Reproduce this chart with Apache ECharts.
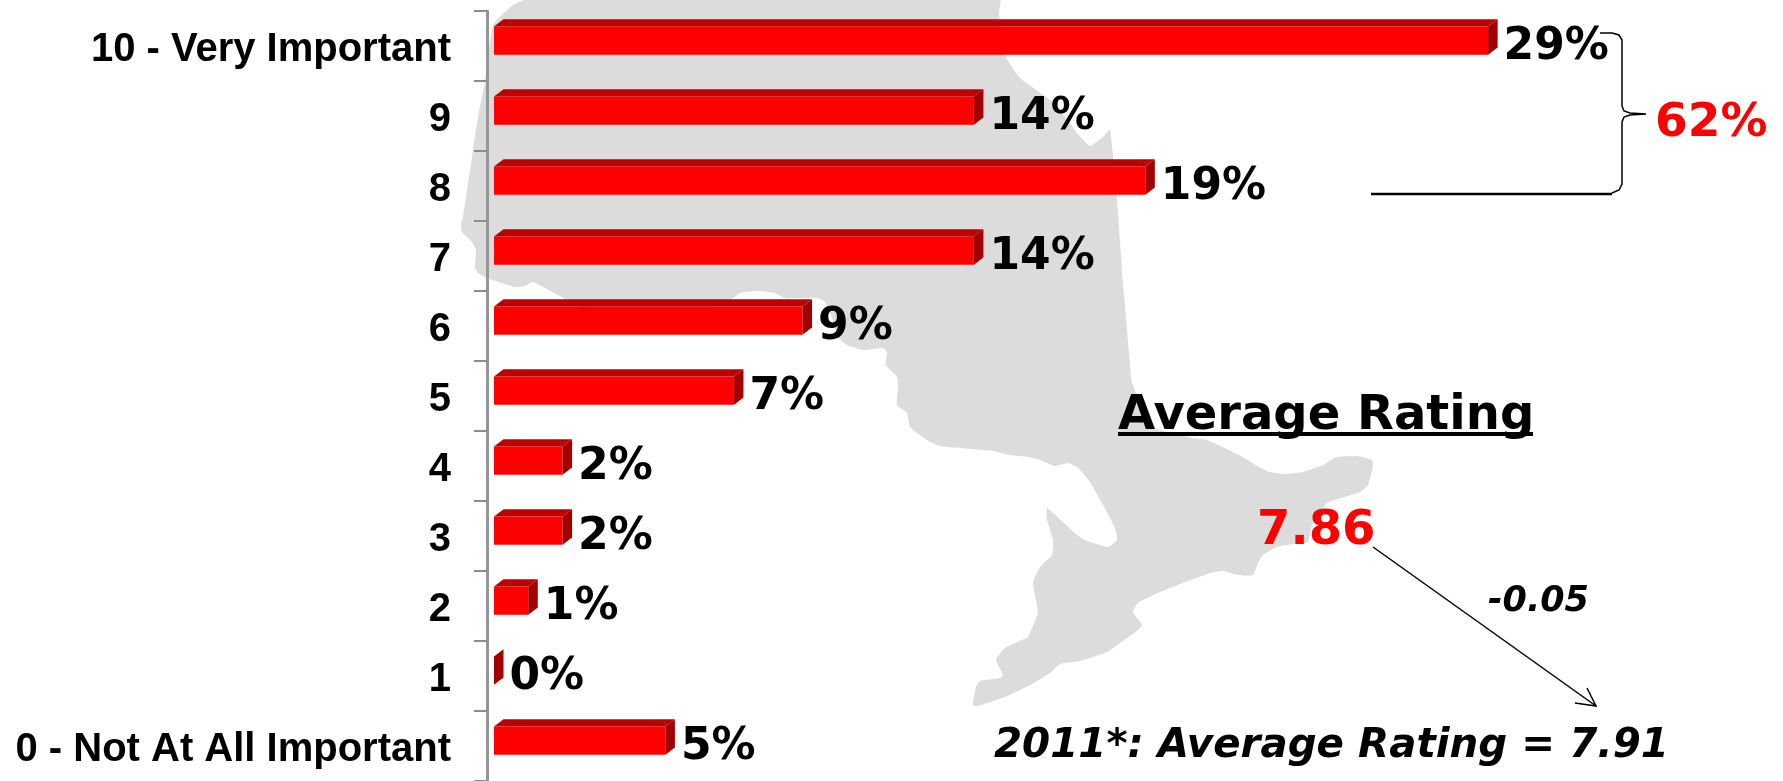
<!DOCTYPE html>
<html>
<head>
<meta charset="utf-8">
<script src="https://cdn.jsdelivr.net/npm/echarts@6/dist/echarts.min.js"></script>
<style>
  html, body { margin: 0; padding: 0; background: #fff; }
  #main { width: 1783px; height: 781px; }
</style>
</head>
<body>
<div id="main"></div>
<script>
const categories = ['10 - Very Important', '9', '8', '7', '6', '5', '4', '3', '2', '1', '0 - Not At All Important']
const percentValues = [29, 14, 19, 14, 9, 7, 2, 2, 1, 0, 5]

const topBoxLabel = '62%'
const averageTitle = 'Average Rating'
const averageValue = '7.86'
const averageChange = '-0.05'
const previousAverage = '2011*: Average Rating = 7.91'

// background silhouette, traced in page pixels
const mapOutline = [
  [525, 0], [513, 5], [493, 25], [485, 82], [478, 117], [473, 150], [463, 217], [461, 223], [462, 232],
  [472, 242], [476, 250], [475, 267], [478, 273], [487, 278], [515, 287], [525, 286], [533, 282], [565, 299],
  [590, 312], [700, 312], [732, 299], [740, 293], [758, 291], [775, 293], [785, 298], [817, 298], [825, 302],
  [832, 318], [838, 337], [847, 345], [863, 350], [883, 348], [887, 352], [886, 365], [897, 377], [898, 387],
  [897, 405], [907, 413], [910, 427], [927, 440], [940, 446], [960, 448], [993, 451], [1010, 455], [1028, 457],
  [1040, 460], [1055, 466], [1068, 463], [1078, 468], [1090, 482], [1103, 505], [1115, 528], [1117, 540],
  [1108, 547], [1085, 540], [1077, 535], [1047, 508], [1047, 520], [1053, 540], [1052, 555], [1040, 567],
  [1033, 583], [1038, 612], [1032, 628], [1028, 637], [1005, 648], [996, 660], [1003, 675], [1000, 678],
  [980, 681], [976, 687], [973, 705], [978, 706], [1005, 697], [1030, 685], [1050, 673], [1060, 664],
  [1080, 661], [1107, 652], [1120, 643], [1138, 630], [1142, 625], [1133, 612], [1138, 603], [1160, 592],
  [1210, 573], [1223, 571], [1238, 575], [1253, 575], [1258, 563], [1263, 555], [1277, 547], [1293, 544],
  [1308, 542], [1312, 525], [1327, 503], [1345, 497], [1360, 492], [1368, 485], [1373, 465], [1372, 460],
  [1357, 456], [1337, 457], [1323, 465], [1303, 472], [1285, 474], [1270, 472], [1257, 466], [1243, 457],
  [1207, 440], [1193, 438], [1153, 427], [1132, 383], [1130, 363], [1123, 283], [1117, 200], [1110, 130],
  [1103, 137], [1090, 146], [1077, 133], [1070, 123], [1050, 100], [1020, 78], [1005, 55], [999, 13], [1000, 0]
]

const fontFamily = '"DejaVu Sans"'
const baselineRatio = 0.73 // text top to baseline, in font sizes
const chart = echarts.init(document.getElementById('main'), null, { renderer: 'canvas' })

// 3d looking bar: front face, top face, right side face, then the value
function renderBar(params, api) {
  const index = api.value(1)
  const value = api.value(0)
  const base = api.coord([0, index])
  const end = api.coord([value, index])
  const band = api.size([0, 1])[1]
  const top = base[1] - band * 0.277
  const bottom = base[1] + band * 0.125
  const dx = 9.5
  const dy = 7.3
  const children = [
    {
      type: 'polygon',
      shape: { points: [[base[0], top], [base[0] + dx, top - dy], [end[0] + dx, top - dy], [end[0], top]] },
      style: { fill: '#C00000' }
    },
    {
      type: 'polygon',
      shape: { points: [[end[0], top], [end[0] + dx, top - dy], [end[0] + dx, bottom - dy], [end[0], bottom]] },
      style: { fill: '#A00000' }
    },
    {
      type: 'text',
      x: end[0] + dx + 6,
      y: base[1] + 12 - 44 * baselineRatio,
      style: {
        text: value + '%',
        fill: '#000',
        font: 'bold 44px ' + fontFamily
      }
    }
  ]
  if (value > 0) {
    children.unshift({
      type: 'rect',
      shape: { x: base[0], y: top, width: end[0] - base[0], height: bottom - top },
      style: { fill: '#FF0000' }
    })
  }
  return { type: 'group', children: children }
}

// y is the text baseline
function pageText(text, x, y, size, color, style) {
  return {
    type: 'text',
    x: x,
    y: y - size * baselineRatio,
    z: 5,
    style: {
      text: text,
      fill: color,
      font: (style || '') + ' bold ' + size + 'px ' + fontFamily
    }
  }
}

function pageLine(points, width) {
  return {
    type: 'polyline',
    z: 5,
    shape: { points: points },
    style: { stroke: '#000', lineWidth: width, fill: null }
  }
}

const option = {
  animation: false,
  backgroundColor: '#fff',
  grid: { left: 494, top: 11, width: 1028.4, height: 771.1 },
  xAxis: { type: 'value', min: 0, max: 30, show: false },
  yAxis: {
    type: 'category',
    inverse: true,
    data: categories,
    offset: 7,
    axisLine: { show: true, onZero: false, lineStyle: { color: '#969696', width: 3 } },
    axisTick: { show: true, length: 13, lineStyle: { color: '#8c8c8c', width: 2 } },
    axisLabel: {
      margin: 36,
      interval: 0,
      formatter: '{v|{value}}',
      rich: {
        v: {
          color: '#000',
          fontSize: 40,
          fontWeight: 'bold',
          fontFamily: '"Liberation Sans"',
          padding: [8, 0, 0, 0]
        }
      }
    }
  },
  series: [
    {
      type: 'custom',
      renderItem: renderBar,
      encode: { x: 0, y: 1 },
      data: percentValues.map((v, i) => [v, i]),
      z: 3
    }
  ],
  graphic: [
    {
      type: 'polygon',
      z: -1,
      silent: true,
      shape: { points: mapOutline, smooth: 0.15 },
      style: { fill: '#DCDCDC' }
    },
    pageLine([[1600, 33], [1612, 33], [1619, 35], [1622, 40], [1622, 106], [1624, 111], [1630, 113], [1646, 114],
      [1630, 115], [1624, 117], [1622, 122], [1622, 184], [1619, 190], [1612, 193]], 1.5),
    pageLine([[1371, 194], [1612, 194]], 2.5),
    pageText(topBoxLabel, 1655, 135, 47, '#FF0000'),
    pageText(averageTitle, 1118, 428, 48, '#000'),
    {
      type: 'rect',
      z: 5,
      shape: { x: 1118, y: 432, width: 415, height: 4 },
      style: { fill: '#000' }
    },
    pageText(averageValue, 1257, 543, 48, '#FF0000'),
    pageLine([[1373, 547], [1596, 706]], 1.5),
    pageLine([[1587, 688], [1596, 706], [1575, 703]], 1.5),
    pageText(averageChange, 1488, 610, 35, '#000', 'italic'),
    pageText(previousAverage, 994, 756, 40.4, '#000', 'italic')
  ]
}

chart.setOption(option)
</script>
</body>
</html>
